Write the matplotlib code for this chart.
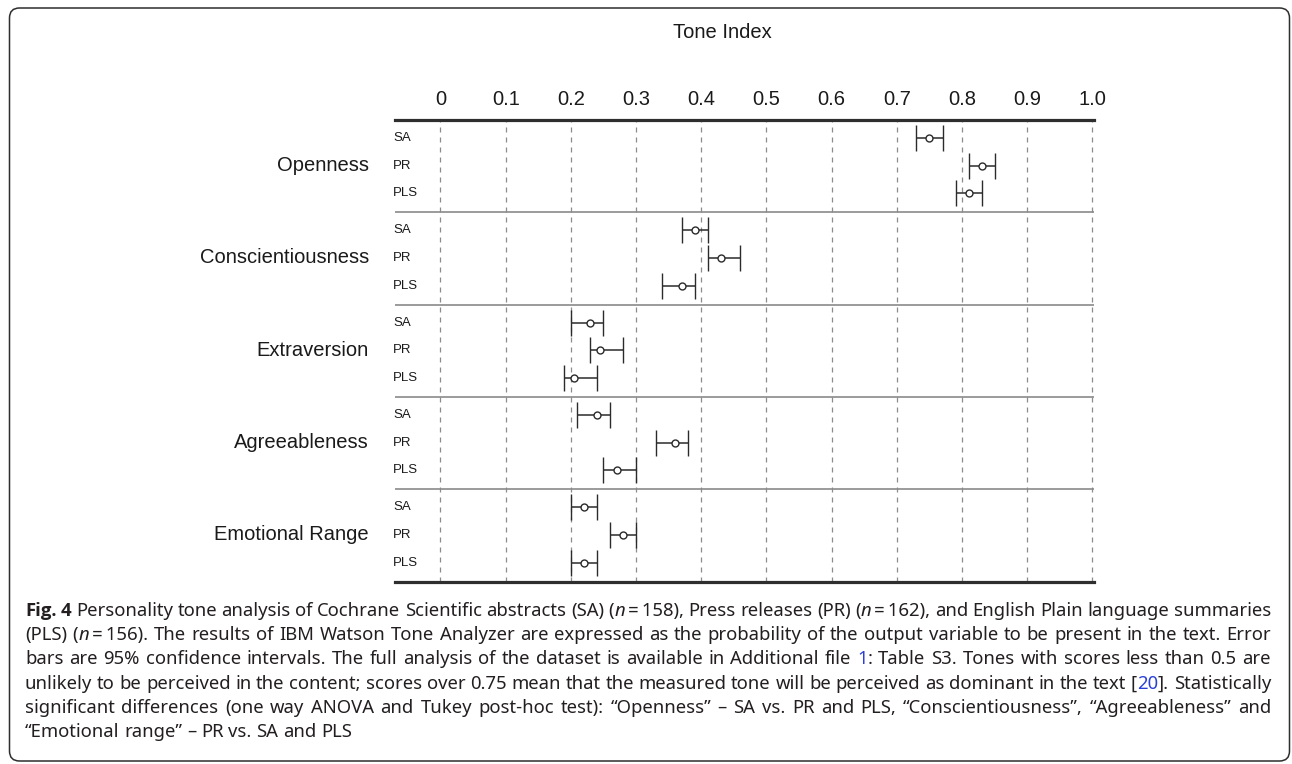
import os
import matplotlib
matplotlib.use("Agg")
import matplotlib.pyplot as plt
from matplotlib import font_manager
from matplotlib.transforms import IdentityTransform, blended_transform_factory
from matplotlib.patches import FancyBboxPatch

# ---- data -------------------------------------------------------------
traits = ["Openness", "Conscientiousness", "Extraversion", "Agreeableness", "Emotional Range"]
sources = ["SA", "PR", "PLS"]

mean_sa = [0.75, 0.39, 0.23, 0.24, 0.22]
low_sa = [0.73, 0.37, 0.20, 0.21, 0.20]
high_sa = [0.77, 0.41, 0.25, 0.26, 0.24]

mean_pr = [0.83, 0.43, 0.245, 0.36, 0.28]
low_pr = [0.81, 0.41, 0.23, 0.33, 0.26]
high_pr = [0.85, 0.46, 0.28, 0.38, 0.30]

mean_pls = [0.81, 0.37, 0.205, 0.27, 0.22]
low_pls = [0.79, 0.34, 0.19, 0.25, 0.20]
high_pls = [0.83, 0.39, 0.24, 0.30, 0.24]

x_ticks = [0, 0.1, 0.2, 0.3, 0.4, 0.5, 0.6, 0.7, 0.8, 0.9, 1.0]
x_tick_labels = ["0", "0.1", "0.2", "0.3", "0.4", "0.5", "0.6", "0.7", "0.8", "0.9", "1.0"]
axis_title = "Tone Index"

caption_lines = [
    "*Fig. 4* Personality tone analysis of Cochrane Scientific abstracts (SA) (_n_~=~158), Press releases (PR) (_n_~=~162), and English Plain language summaries",
    "(PLS) (_n_~=~156). The results of IBM Watson Tone Analyzer are expressed as the probability of the output variable to be present in the text. Error",
    "bars are 95% confidence intervals. The full analysis of the dataset is available in Additional file ^1^: Table S3. Tones with scores less than 0.5 are",
    "unlikely to be perceived in the content; scores over 0.75 mean that the measured tone will be perceived as dominant in the text [^20^]. Statistically",
    "significant differences (one way ANOVA and Tukey post-hoc test): \u201cOpenness\u201d \u2013 SA vs. PR and PLS, \u201cConscientiousness\u201d, \u201cAgreeableness\u201d and",
    "\u201cEmotional range\u201d \u2013 PR vs. SA and PLS",
]

# ---- fonts ------------------------------------------------------------
CHART_FONT = ["Liberation Sans", "DejaVu Sans"]
plt.rcParams["font.family"] = CHART_FONT


def has_bold(family):
    try:
        path = font_manager.findfont(font_manager.FontProperties(family=family, weight="bold"),
                                     fallback_to_default=False)
    except Exception:
        return False
    return "bold" in os.path.basename(path).lower()


cap_main = "Noto Sans"
cap_bold = next((f for f in ["Noto Sans", "Open Sans", "Lato", "DejaVu Sans"] if has_bold(f)),
                "DejaVu Sans")

# ---- figure layout (pixels) -------------------------------------------
W, H = 1292, 764
fig = plt.figure(figsize=(W / 100, H / 100), dpi=100)
fig.patch.set_facecolor("white")

ax_left, ax_right, ax_top, ax_bottom = 395, 1094, 120, 581.5
ax = fig.add_axes([ax_left / W, (H - ax_bottom) / H,
                   (ax_right - ax_left) / W, (ax_bottom - ax_top) / H])

zero_px, unit_px = 440.5, 652.0
ax.set_xlim((ax_left - zero_px) / unit_px, (ax_right - zero_px) / unit_px)

GROUP = 10 / 3
n_groups = len(traits)
ax.set_ylim(GROUP * n_groups, 0)

for s in ax.spines.values():
    s.set_visible(False)
ax.set_yticks([])
ax.set_xticks(x_ticks)
ax.set_xticklabels(x_tick_labels, fontsize=14.5, color="#1a1a1a", family=CHART_FONT)
ax.tick_params(axis="x", top=True, labeltop=True, bottom=False, labelbottom=False,
               length=0, pad=8)

# dashed vertical guides
for t in x_ticks:
    ax.axvline(t, color="#8c8c8c", lw=0.9, ls=(0, (4, 4)), zorder=1)

# horizontal rules
ax.axhline(0, color="#2e2e2e", lw=2.3, zorder=3, clip_on=False)
ax.axhline(GROUP * n_groups, color="#2e2e2e", lw=2.3, zorder=3, clip_on=False)
for g in range(1, n_groups):
    ax.axhline(g * GROUP, color="#8a8a8a", lw=1.2, zorder=2)

# error bars
series = [(mean_sa, low_sa, high_sa), (mean_pr, low_pr, high_pr), (mean_pls, low_pls, high_pls)]
label_tf = blended_transform_factory(ax.transAxes, ax.transData)
for r, (src, (m, lo, hi)) in enumerate(zip(sources, series)):
    ys = [g * GROUP + 0.65 + r for g in range(n_groups)]
    xerr = [[mi - li for mi, li in zip(m, lo)], [hi_ - mi for mi, hi_ in zip(m, hi)]]
    ax.errorbar(m, ys, xerr=xerr, fmt="o", color="#2b2b2b", mfc="white", mec="#2b2b2b",
                ms=5, mew=1.0, elinewidth=1.1, capsize=9.3, capthick=1.1, zorder=5)
    for y in ys:
        ax.text((393 - ax_left) / (ax_right - ax_left), y, src, transform=label_tf,
                ha="left", va="center", fontsize=9.5, color="#1a1a1a", family=CHART_FONT)

for g, name in enumerate(traits):
    ax.text((369 - ax_left) / (ax_right - ax_left), g * GROUP + 1.65, name,
            transform=label_tf, ha="right", va="center", fontsize=14.5, color="#1a1a1a",
            family=CHART_FONT)

fig.text(722 / W, 1 - 33 / H, axis_title, ha="center", va="center",
         fontsize=14.5, color="#1a1a1a", family=CHART_FONT)

# ---- frame ------------------------------------------------------------
frame = FancyBboxPatch((9.5, 3), 1280, 753, boxstyle="round,pad=0,rounding_size=10",
                       transform=IdentityTransform(), fill=False, ec="#2e2e2e", lw=1.1)
fig.add_artist(frame)

# ---- justified caption ------------------------------------------------
cap_size = 13.3
text_color = "#231f20"
link_color = "#2a3fd6"


def parse_line(line, state):
    words = []
    for token in line.split(" "):
        runs, buf = [], ""
        for ch in token:
            if ch in "*_^":
                if buf:
                    runs.append((buf, dict(state)))
                    buf = ""
                key = {"*": "bold", "_": "italic", "^": "link"}[ch]
                state[key] = not state[key]
            elif ch == "~":
                buf += "\u2009"
            else:
                buf += ch
        if buf:
            runs.append((buf, dict(state)))
        words.append(runs)
    return words


renderer = fig.canvas.get_renderer()


def make_text(s, st):
    fam = [cap_bold, "DejaVu Sans"] if st["bold"] else [cap_main, "DejaVu Sans"]
    return fig.text(0, 0, s, transform=IdentityTransform(), family=fam,
                    fontsize=cap_size, weight="bold" if st["bold"] else "normal",
                    style="italic" if st["italic"] else "normal",
                    color=link_color if st["link"] else text_color,
                    ha="left", va="baseline")


plain = dict(bold=False, italic=False, link=False)
probe_a = make_text("x x", plain)
probe_b = make_text("xx", plain)
space_w = probe_a.get_window_extent(renderer).width - probe_b.get_window_extent(renderer).width
probe_a.remove()
probe_b.remove()

cap_x0, cap_x1 = 25, 1271
baseline0, line_step = 616, 24.2
state = dict(plain)
for i, line in enumerate(caption_lines):
    words = parse_line(line, state)
    placed = []
    for runs in words:
        arts = []
        for s, st in runs:
            t = make_text(s, st)
            arts.append((t, t.get_window_extent(renderer).width))
        placed.append(arts)
    widths = [sum(w for _, w in arts) for arts in placed]
    last = i == len(caption_lines) - 1
    gap = space_w if last else (cap_x1 - cap_x0 - sum(widths)) / (len(widths) - 1)
    x = cap_x0
    y = H - (baseline0 + i * line_step)
    for arts, ww in zip(placed, widths):
        xx = x
        for t, w in arts:
            t.set_position((xx, y))
            xx += w
        x += ww + gap

fig.savefig("out.png", dpi=100)
